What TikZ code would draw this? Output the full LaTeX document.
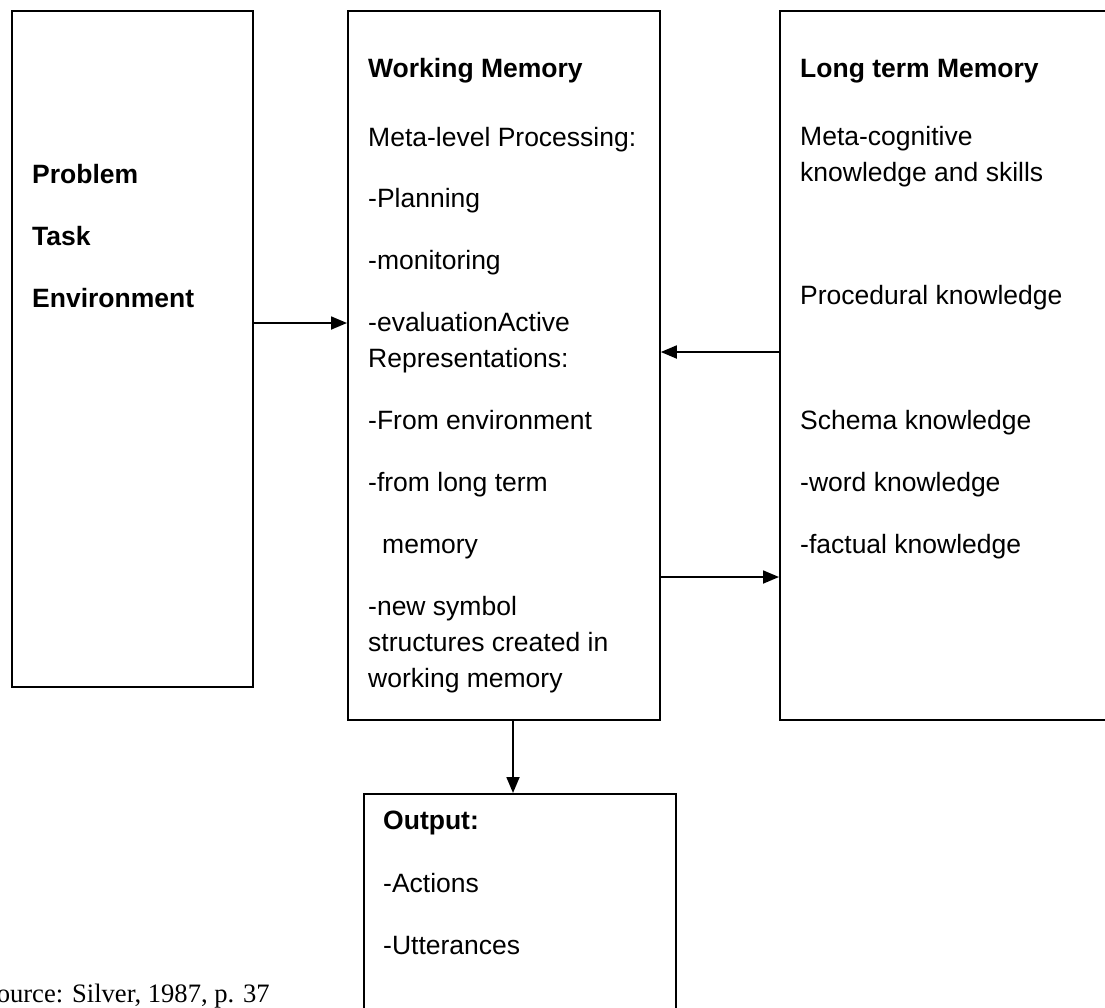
\documentclass[tikz,border=0pt]{standalone}
\usepackage{fontspec}
\setmainfont{Liberation Sans}
\newfontfamily\timesfont{Liberation Serif}
\usetikzlibrary{arrows.meta}
\begin{document}
\begin{tikzpicture}[x=1pt,y=-1pt,
  box/.style={draw=black, line width=1.8pt, rectangle, inner sep=0pt, anchor=north west},
  txt/.style={anchor=base west, inner sep=0pt, font=\fontsize{26.5}{32}\selectfont},
  btxt/.style={txt, font=\fontsize{26.5}{32}\selectfont\bfseries},
  arr/.style={line width=1.8pt, -{Triangle[length=16pt,width=13pt]}}]
\path[use as bounding box] (0,0) rectangle (1105,1007);
\clip (0,0) rectangle (1105,1007);
% boxes
\node[box, minimum width=241pt, minimum height=676pt] (pte) at (11,10) {};
\node[box, minimum width=312pt, minimum height=709pt] (wm) at (347,10) {};
\node[box, minimum width=360pt, minimum height=709pt] (ltm) at (779,10) {};
\node[box, minimum width=312pt, minimum height=260pt] (out) at (363,793) {};
% left box text
\node[btxt] (p1) at (32,183) {Problem};
\node[btxt] (p2) at (32,245) {Task};
\node[btxt] (p3) at (32,307) {Environment};
% working memory text
\node[btxt] (w0) at (368,77) {Working Memory};
\node[txt] (w1) at (368,146) {Meta-level Processing:};
\node[txt] (w2) at (368,207) {-Planning};
\node[txt] (w3) at (368,269) {-monitoring};
\node[txt] (w4) at (368,331) {-evaluationActive};
\node[txt] (w5) at (368,367) {Representations:};
\node[txt] (w6) at (368,429) {-From environment};
\node[txt] (w7) at (368,491) {-from long term};
\node[txt] (w8) at (382,553) {memory};
\node[txt] (w9) at (368,615) {-new symbol};
\node[txt] (w10) at (368,651) {structures created in};
\node[txt] (w11) at (368,687) {working memory};
% long term memory text
\node[btxt] (l0) at (800,77) {Long term Memory};
\node[txt] (l1) at (800,145) {Meta-cognitive};
\node[txt] (l2) at (800,181) {knowledge and skills};
\node[txt] (l3) at (800,304) {Procedural knowledge};
\node[txt] (l4) at (800,429) {Schema knowledge};
\node[txt] (l5) at (800,491) {-word knowledge};
\node[txt] (l6) at (800,553) {-factual knowledge};
% output text
\node[btxt] (o0) at (383,829) {Output:};
\node[txt] (o1) at (383,892) {-Actions};
\node[txt] (o2) at (383,954) {-Utterances};
% source
\node[anchor=base east, inner sep=0pt, font=\timesfont\fontsize{26.6}{32}\selectfont] (src) at (270,1002) {Source: Silver, 1987, p. 37};
% connectors
\draw[arr] (pte.east |- 0,323) -- (wm.west |- 0,323);
\draw[arr] (ltm.west |- 0,352) -- (wm.east |- 0,352);
\draw[arr] (wm.east |- 0,577) -- (ltm.west |- 0,577);
\draw[arr] (wm.south -| 513,0) -- (out.north -| 513,0);
\end{tikzpicture}
\end{document}
